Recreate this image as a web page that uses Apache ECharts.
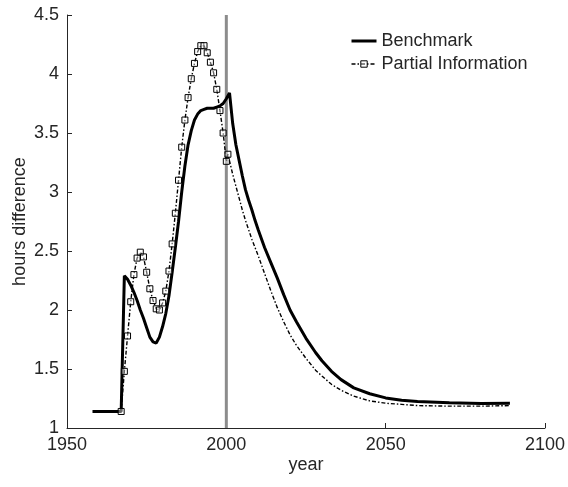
<!DOCTYPE html>
<html>
<head>
<meta charset="utf-8">
<script src="https://cdn.jsdelivr.net/npm/echarts@6/dist/echarts.min.js"></script>
<style>
html,body{margin:0;padding:0;background:#fff;}
#c{width:568px;height:487px;}
</style>
</head>
<body>
<div id="c"></div>
<script>
// ---- data ----
var benchYears = [1958,1967,1968,1969,1970,1971,1972,1973,1974,1975,1976,1977,1978,1979,1980,1981,1982,1983,1984,1985,1986,1987,1988,1989,1990,1991,1992,1993,1994,1995,1996,1997,1998,1999,2000,2001,2002,2003,2004,2005,2006,2007,2008,2009,2010,2012,2014,2016,2018,2020,2022,2025,2028,2030,2033,2036,2040,2045,2050,2055,2060,2070,2080,2089];
var benchValues = [1.14,1.14,2.29,2.26,2.21,2.15,2.08,2.00,1.93,1.85,1.77,1.73,1.72,1.77,1.86,1.97,2.12,2.32,2.53,2.75,3.00,3.22,3.40,3.52,3.61,3.66,3.69,3.70,3.71,3.71,3.71,3.72,3.73,3.75,3.79,3.84,3.58,3.40,3.27,3.14,3.02,2.93,2.85,2.76,2.68,2.53,2.40,2.27,2.13,2.00,1.90,1.76,1.64,1.57,1.48,1.41,1.34,1.29,1.255,1.235,1.225,1.213,1.208,1.21];

// observed (marked) part of Partial Information
var partialYears = [1967,1968,1969,1970,1971,1972,1973,1974,1975,1976,1977,1978,1979,1980,1981,1982,1983,1984,1985,1986,1987,1988,1989,1990,1991,1992,1993,1994,1995,1996,1997,1998,1999,2000,2000.5];
var partialValues = [1.14,1.48,1.78,2.07,2.30,2.44,2.49,2.45,2.32,2.18,2.08,2.01,2.00,2.06,2.16,2.33,2.56,2.82,3.10,3.38,3.61,3.80,3.96,4.09,4.19,4.24,4.24,4.18,4.10,4.01,3.87,3.69,3.50,3.26,3.32];
// projected tail of Partial Information (no markers)
var tailYears = [2002,2003,2004,2005,2006,2007,2008,2010,2012,2014,2016,2018,2020,2022,2025,2028,2030,2033,2036,2040,2045,2050,2055,2060,2070,2080,2089];
var tailValues = [3.15,3.05,2.95,2.85,2.76,2.68,2.60,2.46,2.31,2.16,2.02,1.90,1.79,1.70,1.59,1.49,1.44,1.37,1.32,1.27,1.23,1.21,1.20,1.19,1.185,1.185,1.19];

var vlineYear = 2000;
var xTicks = {min:1950, max:2100, interval:50};
var yTicks = {min:1, max:4.5, interval:0.5};

// ---- build series data ----
function pairs(xs, ys){ var r=[]; for(var i=0;i<xs.length;i++){ r.push([xs[i], ys[i]]); } return r; }
var benchData = pairs(benchYears, benchValues);
var partialData = pairs(partialYears, partialValues);
pairs(tailYears, tailValues).forEach(function(p){ partialData.push({value:p, symbol:'none'}); });

var txt = '#262626';
var font = 'Liberation Sans, Arial, Helvetica, sans-serif';
var dashDot = [4,2,1.5,2];
var chart = echarts.init(document.getElementById('c'), null, {renderer:'canvas'});
chart.setOption({
  animation:false,
  backgroundColor:'#fff',
  textStyle:{fontFamily:font},
  grid:{left:67, right:21, top:15, bottom:59, containLabel:false},
  legend:{
    orient:'vertical', left:345, top:27, itemGap:5,
    itemWidth:25, itemHeight:8,
    textStyle:{fontSize:18, color:txt, fontFamily:font},
    data:[
      {name:'Benchmark', itemStyle:{opacity:0}, lineStyle:{color:'#000', width:3, type:'solid'}},
      {name:'Partial Information',
       itemStyle:{color:'rgba(255,255,255,0.4)', borderColor:'#000', borderWidth:1},
       lineStyle:{color:'#000', width:1.4, type:dashDot}}
    ]
  },
  xAxis:{
    type:'value', min:xTicks.min, max:xTicks.max, interval:xTicks.interval,
    name:'year', nameLocation:'middle', nameGap:28, nameMoveOverlap:false,
    nameTextStyle:{fontSize:18, color:txt, fontFamily:font},
    axisLine:{lineStyle:{color:txt, width:1}},
    axisTick:{inside:true, length:5, lineStyle:{color:txt}},
    axisLabel:{fontSize:18, color:txt, margin:8, fontFamily:font,
      formatter:function(v){ return String(v); }},
    splitLine:{show:false}
  },
  yAxis:{
    type:'value', min:yTicks.min, max:yTicks.max, interval:yTicks.interval,
    name:'hours difference', nameLocation:'middle', nameGap:38, nameMoveOverlap:false,
    nameTextStyle:{fontSize:18, color:txt, fontFamily:font},
    axisLine:{show:true, lineStyle:{color:txt, width:1}},
    axisTick:{show:true, inside:true, length:5, lineStyle:{color:txt}},
    axisLabel:{fontSize:18, color:txt, margin:8, fontFamily:font},
    splitLine:{show:false}
  },
  series:[
    {
      name:'vline', type:'line', silent:true, z:1, symbol:'none',
      data:[[vlineYear, yTicks.min],[vlineYear, yTicks.max]],
      lineStyle:{color:'#8c8c8c', width:3}
    },
    {
      name:'Benchmark', type:'line', z:3, symbol:'none', showSymbol:false,
      data:benchData,
      color:'#000',
      lineStyle:{color:'#000', width:3}
    },
    {
      name:'Partial Information', type:'line', z:4,
      symbol:'rect', symbolSize:6, showSymbol:true, showAllSymbol:true,
      data:partialData,
      color:'#000',
      itemStyle:{color:'rgba(255,255,255,0.4)', borderColor:'#000', borderWidth:1},
      lineStyle:{color:'#000', width:1.4, type:dashDot}
    }
  ]
});
</script>
</body>
</html>
